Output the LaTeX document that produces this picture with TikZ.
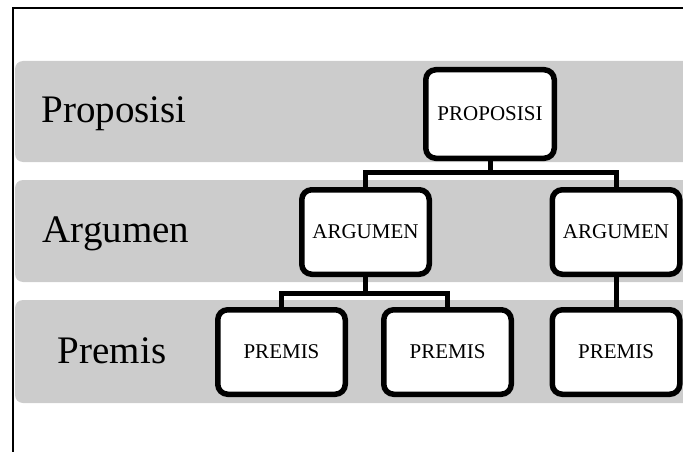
\documentclass[tikz,border=0pt]{standalone}
\usepackage{fontspec}
\setmainfont{Liberation Serif}
\begin{document}
\begin{tikzpicture}[x=1pt,y=-1pt,
  band/.style={fill=black!20,draw=none,rounded corners=8pt},
  level/.style={font=\fontsize{39}{39}\selectfont,anchor=base,inner sep=0pt},
  item/.style={draw=black,fill=white,line width=5.5pt,rounded corners=10pt,
    minimum width=127.5pt,minimum height=84.5pt,inner sep=0pt,
    font=\fontsize{21}{21}\selectfont},
  link/.style={draw=black,line width=5pt}]
\useasboundingbox (0,0) rectangle (683,452);
\clip (0,0) rectangle (683,452);

% outer frame (top and left edges)
\draw[line width=2.8pt] (683,8) -- (13,8) -- (13,452);

% level bands, running off the right edge
\path[band] (15,61) rectangle (700,162);
\path[band] (15,180) rectangle (700,282);
\path[band] (15,300) rectangle (700,403);

% level labels
\node[level] (lprop) at (114,122) {Proposisi};
\node[level] (larg) at (116,242) {Argumen};
\node[level] (lprem) at (112,363) {Premis};

% hierarchy boxes
\node[item,minimum width=128.5pt,minimum height=88.5pt] (prop) at (490,114) {PROPOSISI};
\node[item] (argL) at (365.5,232) {ARGUMEN};
\node[item] (argR) at (616,232) {ARGUMEN};
\node[item] (premA) at (281.5,352) {PREMIS};
\node[item] (premB) at (447.5,352) {PREMIS};
\node[item] (premC) at (616,352) {PREMIS};

% connectors
\coordinate (j1) at (490,172.5);
\coordinate (j2) at (365.5,293);
\draw[link] (prop.south) -- (j1);
\draw[link] (argL.north) |- (j1) -| (argR.north);
\draw[link] (argL.south) -- (j2);
\draw[link] (premA.north) |- (j2) -| (premB.north);
\draw[link] (argR.south) -- (premC.north);
\end{tikzpicture}
\end{document}
